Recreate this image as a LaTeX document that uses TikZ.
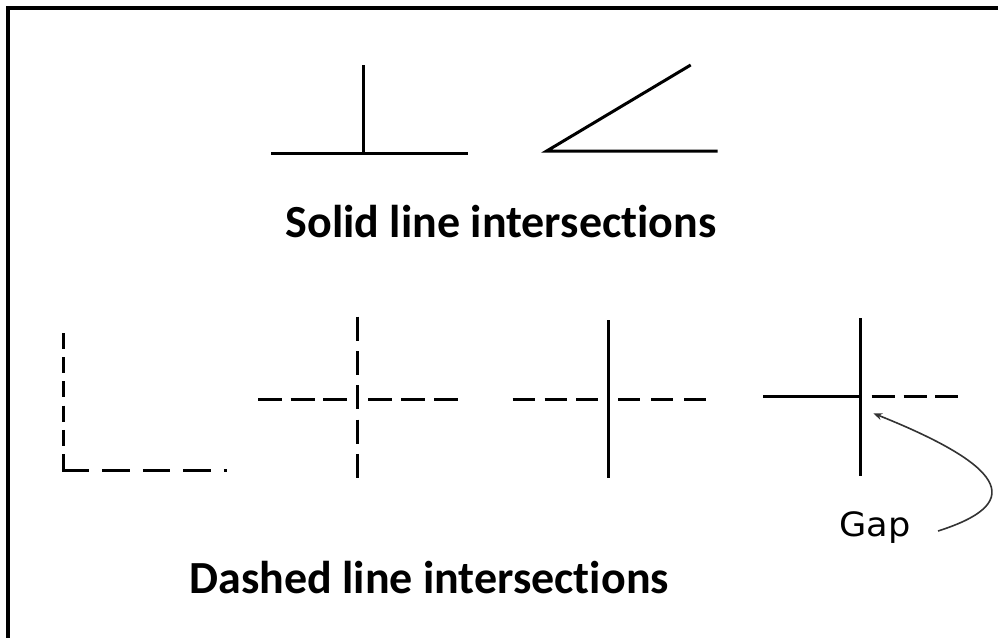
\documentclass[tikz,border=0pt]{standalone}
\usepackage{fontspec}
\setmainfont[Ligatures=NoCommon]{Carlito}
\newfontfamily\gapfont{DejaVu Sans}
\usetikzlibrary{arrows.meta}
\begin{document}
\begin{tikzpicture}[x=1pt,y=-1pt,
  ln/.style={line width=3pt,black},
  lbl/.style={font=\bfseries\fontsize{46}{46}\selectfont,anchor=base,inner sep=0pt},
  note/.style={font=\gapfont\fontsize{33.5}{33.5}\selectfont,anchor=base,inner sep=0pt},
  pointer/.style={line width=1.6pt,draw=black!80,-{Stealth[length=9pt,width=7pt]}}]
\useasboundingbox (0,0) rectangle (998,637);
\clip (0,0) rectangle (998,637);
% frame
\draw[line width=4pt] (8,7.5) rectangle (1020,660);
% solid T
\draw[ln] (271,153) -- (468,153);
\draw[ln] (363.3,65) -- (363.3,153);
% solid angle
\draw[ln] (690.7,65) -- (546.7,151) -- (717.7,151);
\node[lbl] (solid) at (501,237.7) {Solid line intersections};
% dashed L
\draw[ln,dash pattern=on 16pt off 8.2pt] (63.3,333) -- (63.3,471.5);
\draw[ln,dash pattern=on 27.5pt off 13pt] (61.8,470) -- (227,470);
% dashed cross
\draw[ln,dash pattern=on 24pt off 8.5pt] (258,399.3) -- (347,399.3);
\draw[ln,dash pattern=on 24pt off 9pt] (368,399.3) -- (458,399.3);
\draw[ln,dash pattern=on 24pt off 10.3pt] (357.3,316.7) -- (357.3,478);
% solid vertical with dashed horizontal
\draw[ln] (608.3,320) -- (608.3,478);
\draw[ln,dash pattern=on 22pt off 9.8pt] (512.7,399) -- (598.3,399);
\draw[ln,dash pattern=on 22pt off 10.85pt] (618.3,399) -- (706,399);
% solid cross with gap
\draw[ln] (860.7,318) -- (860.7,476);
\draw[ln] (763.3,396.7) -- (860.7,396.7);
\draw[ln,dash pattern=on 23pt off 8.8pt] (871.7,396.7) -- (958.3,396.7);
\node[note] (gap) at (875,536.7) {\scalebox{1.05}[1]{Gap}};
\coordinate (gaptip) at (873.3,413.3);
\draw[pointer] (938,531) .. controls (1020,505) and (1015,470) .. (gaptip);
\node[lbl] (dashed) at (429.2,593) {Dashed line intersections};
\end{tikzpicture}
\end{document}
